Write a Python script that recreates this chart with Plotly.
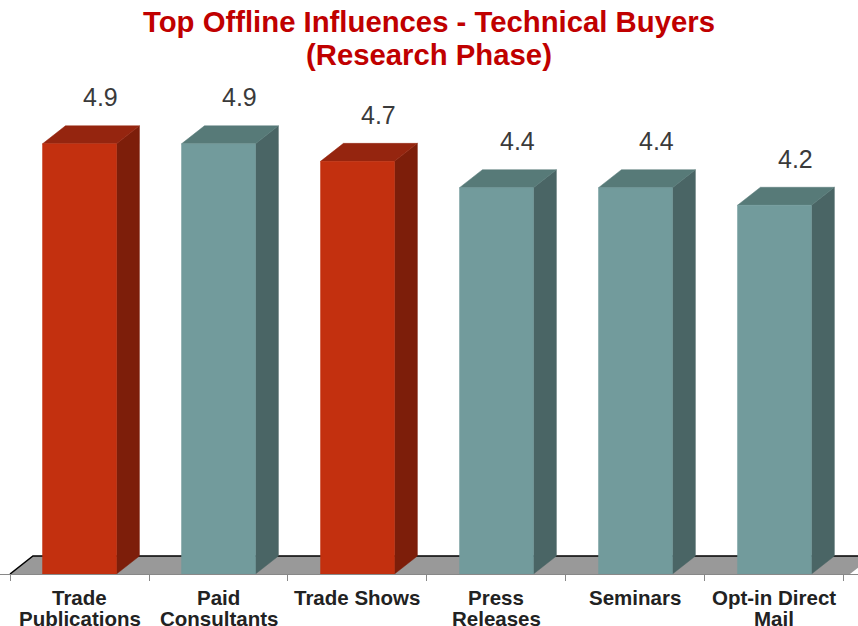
import plotly.graph_objects as go

categories = ["Trade<br>Publications", "Paid<br>Consultants", "Trade Shows",
              "Press<br>Releases", "Seminars", "Opt-in Direct<br>Mail"]
values = [4.9, 4.9, 4.7, 4.4, 4.4, 4.2]
highlight = [True, False, True, False, False, False]
title_text = "Top Offline Influences - Technical Buyers<br>(Research Phase)"

RED = dict(front="#C3300F", side="#7D1E0A", top="#95250F")
TEAL = dict(front="#729B9C", side="#4A6565", top="#577A78")
FONT = "Liberation Sans, Arial"

W = 0.532    # bar width (category units)
DX = 0.165   # depth offset x
DY = 0.205   # depth offset y (value units)

fig = go.Figure()

# floor
n = len(categories)
fx0, fx1 = -0.5, n - 0.457
fig.add_trace(go.Scatter(
    x=[fx0, fx1, fx1 + DX, fx0 + DX, fx0], y=[0, 0, DY, DY, 0],
    fill="toself", fillcolor="#999999", mode="lines",
    line=dict(width=0), hoverinfo="skip", showlegend=False))
fig.add_trace(go.Scatter(
    x=[fx0, fx0 + DX, fx1 + DX + 1], y=[0, DY, DY],
    mode="lines", line=dict(color="black", width=1.5),
    hoverinfo="skip", showlegend=False))

for i, (v, h) in enumerate(zip(values, highlight)):
    c = RED if h else TEAL
    xl, xr = i - W / 2, i + W / 2
    # side
    fig.add_trace(go.Scatter(
        x=[xr, xr + DX, xr + DX, xr, xr], y=[0, DY, v + DY, v, 0],
        fill="toself", fillcolor=c["side"], mode="lines",
        line=dict(width=0.5, color=c["side"]), hoverinfo="skip", showlegend=False))
    # top
    fig.add_trace(go.Scatter(
        x=[xl, xr, xr + DX, xl + DX, xl], y=[v, v, v + DY, v + DY, v],
        fill="toself", fillcolor=c["top"], mode="lines",
        line=dict(width=0.5, color=c["top"]), hoverinfo="skip", showlegend=False))
    # front
    fig.add_trace(go.Scatter(
        x=[xl, xr, xr, xl, xl], y=[0, 0, v, v, 0],
        fill="toself", fillcolor=c["front"], mode="lines",
        line=dict(width=0.5, color=c["front"]), hoverinfo="skip", showlegend=False))
    fig.add_annotation(x=i + 0.15, y=v + 0.53, text=f"{v:.1f}", showarrow=False,
                       xanchor="center", yanchor="middle",
                       font=dict(family=FONT, size=25, color="#3a3a3a"))

# category labels (tight line spacing as in reference)
for i, cat in enumerate(categories):
    for k, line in enumerate(cat.split("<br>")):
        fig.add_annotation(x=i, y=0, yref="y", text=f"<b>{line}</b>", showarrow=False,
                           xanchor="center", yanchor="middle", yshift=-23 - 21 * k,
                           font=dict(family=FONT, size=20.5, color="#222222"))

# title (two lines, tight spacing)
for k, line in enumerate(title_text.split("<br>")):
    fig.add_annotation(x=0.5, xref="paper", y=1, yref="paper", yanchor="middle",
                       xanchor="center", yshift=-21 - 33 * k, showarrow=False,
                       text=f"<b>{line}</b>",
                       font=dict(family=FONT, size=29.3, color="#C00000"))

fig.update_layout(
    width=858, height=626,
    margin=dict(l=0, r=0, t=0, b=52),
    paper_bgcolor="white", plot_bgcolor="white",
    xaxis=dict(range=[-0.572, 5.601], tickvals=list(range(n)),
               showticklabels=False,
               ticks="", showline=True, linecolor="#888888", linewidth=1,
               showgrid=False, zeroline=False,
               minor=dict(tickvals=[k - 0.5 for k in range(n + 1)], ticks="outside",
                          ticklen=6, tickcolor="#888888", showgrid=False)),
    yaxis=dict(range=[0, 6.538], visible=False, showgrid=False, zeroline=False),
)

fig.write_html("out.html", config={"displayModeBar": False},
               post_script="document.body.style.margin='0';")
